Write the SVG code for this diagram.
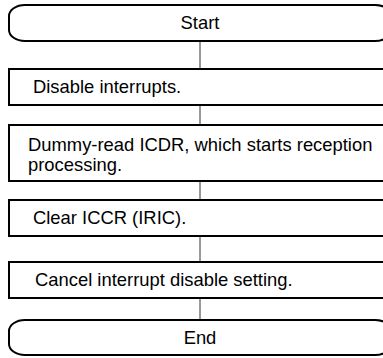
<svg xmlns="http://www.w3.org/2000/svg" width="383" height="358" viewBox="0 0 383 358">
  <style>
    .shape { fill: #ffffff; stroke: #000000; stroke-width: 2; }
    .conn { stroke: #333333; stroke-width: 1; fill: none; }
    .label { font-family: "Liberation Sans", Arial, sans-serif; font-size: 18.4px; fill: #000000; }
    .mid { text-anchor: middle; }
  </style>
  <rect width="383" height="358" fill="#ffffff"/>

  <!-- flow connectors -->
  <g id="connectors">
    <line class="conn" x1="200" y1="41" x2="200" y2="69"/>
    <line class="conn" x1="200" y1="105" x2="200" y2="125"/>
    <line class="conn" x1="200" y1="181" x2="200" y2="200"/>
    <line class="conn" x1="200" y1="236" x2="200" y2="262"/>
    <line class="conn" x1="200" y1="298" x2="200" y2="320"/>
  </g>

  <g id="start">
    <rect class="shape" x="9" y="5" width="382" height="36" rx="16" ry="11"/>
    <text class="label mid" x="200" y="29">Start</text>
  </g>

  <g id="disable-interrupts">
    <rect class="shape" x="9" y="69" width="382" height="36"/>
    <text class="label" x="33" y="93">Disable interrupts.</text>
  </g>

  <g id="dummy-read">
    <rect class="shape" x="9" y="125" width="382" height="56"/>
    <text class="label" x="28" y="151">Dummy-read ICDR, which starts reception</text>
    <text class="label" x="28" y="171">processing.</text>
  </g>

  <g id="clear-iccr">
    <rect class="shape" x="9" y="200" width="382" height="36"/>
    <text class="label" x="33" y="224">Clear ICCR (IRIC).</text>
  </g>

  <g id="cancel-disable">
    <rect class="shape" x="9" y="262" width="382" height="36"/>
    <text class="label" x="35" y="286">Cancel interrupt disable setting.</text>
  </g>

  <g id="end">
    <rect class="shape" x="9" y="320" width="382" height="35" rx="16" ry="11"/>
    <text class="label mid" x="200" y="344">End</text>
  </g>
</svg>
